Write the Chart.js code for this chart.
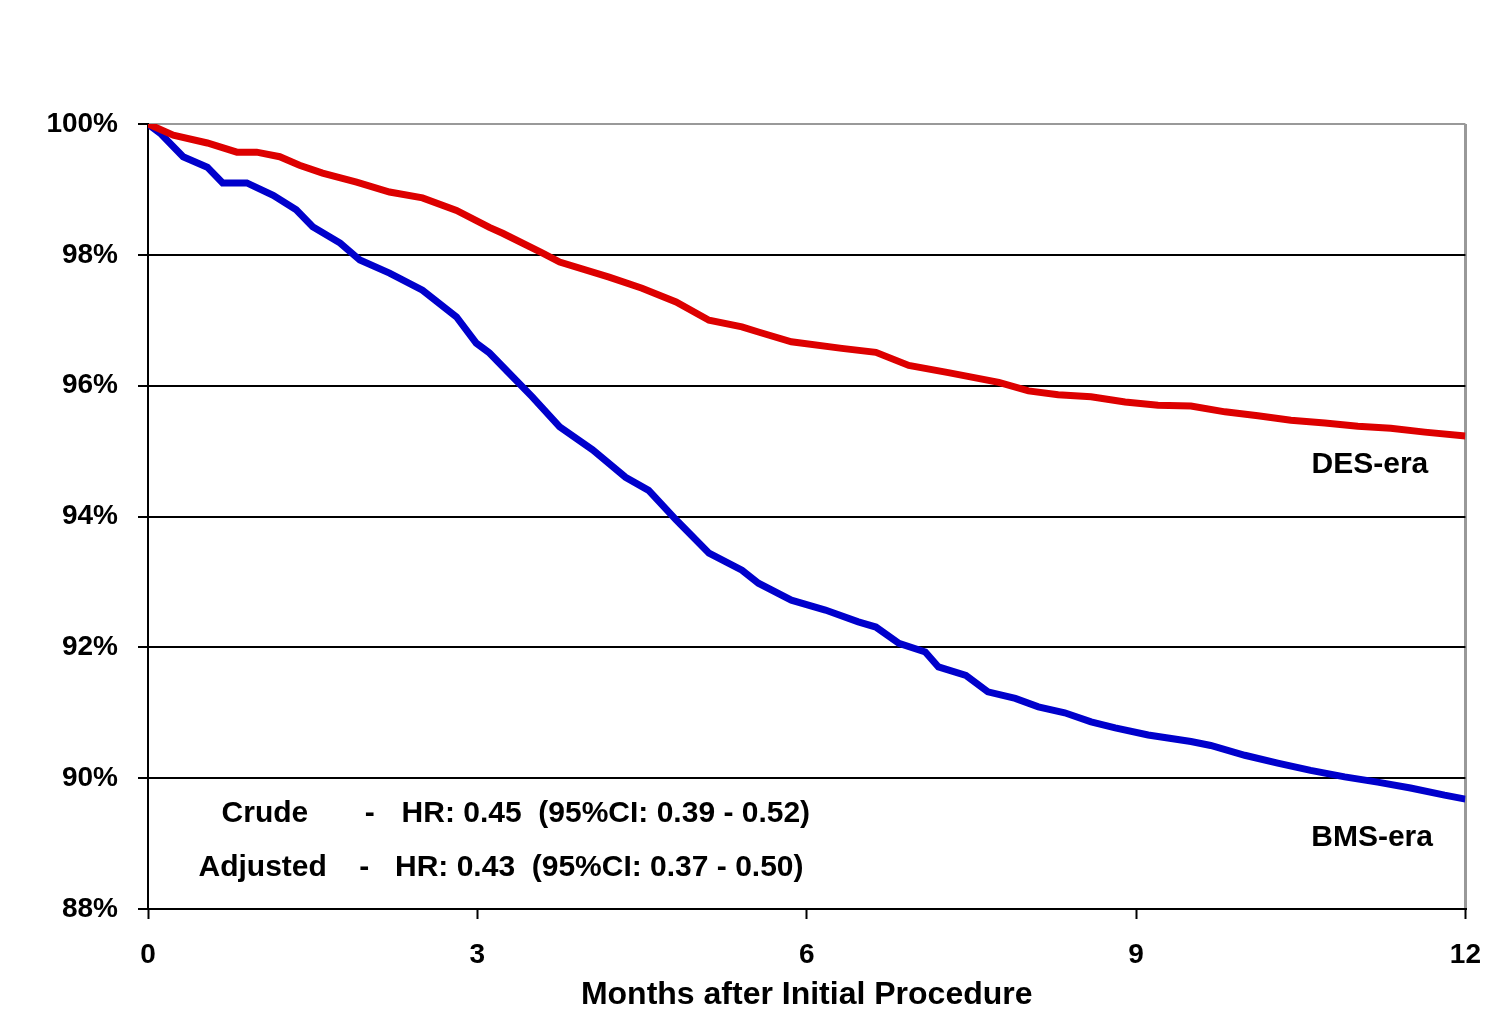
<!DOCTYPE html>
<html>
<head>
<meta charset="utf-8">
<script src="https://cdn.jsdelivr.net/npm/chart.js@4.4.1/dist/chart.umd.min.js"></script>
<style>
  body { margin: 0; background: #fff; }
  #wrap { width: 1500px; height: 1028px; }
</style>
</head>
<body>
<div id="wrap"><canvas id="km"></canvas></div>
<script>
// Kaplan-Meier style curves (months, percent event-free)
const desMonths = [0, 0.23, 0.54, 0.81, 0.99, 1.2, 1.38, 1.59, 1.9, 2.2, 2.5, 2.81, 3.11, 3.23, 3.59, 3.75, 4.2, 4.5, 4.81, 5.11, 5.41, 5.56, 5.86, 6.32, 6.63, 6.93, 7.29, 7.75, 8.02, 8.29, 8.59, 8.9, 9.2, 9.5, 9.81, 10.11, 10.41, 10.72, 11.02, 11.32, 11.63, 12]
const desValues = [100, 99.83, 99.71, 99.57, 99.57, 99.5, 99.37, 99.25, 99.11, 98.96, 98.87, 98.68, 98.42, 98.33, 98.03, 97.89, 97.66, 97.49, 97.28, 97.0, 96.9, 96.82, 96.67, 96.57, 96.51, 96.31, 96.2, 96.05, 95.92, 95.86, 95.83, 95.75, 95.7, 95.69, 95.6, 95.54, 95.47, 95.43, 95.38, 95.35, 95.29, 95.23]

const bmsMonths = [0, 0.11, 0.32, 0.54, 0.68, 0.9, 1.14, 1.35, 1.5, 1.75, 1.93, 2.2, 2.5, 2.81, 2.99, 3.11, 3.29, 3.5, 3.75, 4.05, 4.35, 4.56, 4.81, 5.11, 5.41, 5.56, 5.86, 6.17, 6.47, 6.63, 6.84, 7.08, 7.2, 7.45, 7.65, 7.9, 8.11, 8.35, 8.59, 8.81, 9.11, 9.5, 9.68, 9.99, 10.29, 10.59, 10.9, 11.2, 11.5, 11.81, 12]
const bmsValues = [100, 99.86, 99.5, 99.34, 99.1, 99.1, 98.91, 98.69, 98.43, 98.18, 97.92, 97.72, 97.46, 97.05, 96.65, 96.5, 96.19, 95.83, 95.37, 95.02, 94.6, 94.4, 93.95, 93.44, 93.18, 92.98, 92.72, 92.57, 92.39, 92.31, 92.06, 91.93, 91.7, 91.57, 91.32, 91.22, 91.09, 91.0, 90.86, 90.77, 90.66, 90.56, 90.5, 90.35, 90.23, 90.12, 90.02, 89.94, 89.85, 89.74, 89.68]

const xTicks = [0, 3, 6, 9, 12]
const yTicks = [88, 90, 92, 94, 96, 98, 100]

const FONT = "'Liberation Sans', Arial, sans-serif"

const toPoints = (xs, ys) => xs.map((x, i) => ({ x: x, y: ys[i] }))

// text drawn inside the plot, placed in data units
const notes = [
  { text: 'DES-era', x: 11.13, y: 94.79, align: 'center' },
  { text: 'BMS-era', x: 11.15, y: 89.09, align: 'center' },
  { text: 'Crude', x: 0.67, y: 89.45, align: 'left' },
  { text: '-', x: 2.02, y: 89.45, align: 'center' },
  { text: 'HR: 0.45  (95%CI: 0.39 - 0.52)', x: 2.31, y: 89.45, align: 'left' },
  { text: 'Adjusted', x: 0.46, y: 88.63, align: 'left' },
  { text: '-', x: 1.97, y: 88.63, align: 'center' },
  { text: 'HR: 0.43  (95%CI: 0.37 - 0.50)', x: 2.25, y: 88.63, align: 'left' }
]

const notesPlugin = {
  id: 'notes',
  afterDatasetsDraw(chart) {
    const ctx = chart.ctx
    const xs = chart.scales.x
    const ys = chart.scales.y
    ctx.save()
    ctx.fillStyle = '#000'
    ctx.font = 'bold 30px ' + FONT
    ctx.textBaseline = 'middle'
    notes.forEach(n => {
      ctx.textAlign = n.align
      ctx.fillText(n.text, xs.getPixelForValue(n.x), ys.getPixelForValue(n.y))
    })
    ctx.restore()
  }
}

new Chart(document.getElementById('km'), {
  type: 'scatter',
  data: {
    datasets: [
      {
        label: 'DES-era',
        data: toPoints(desMonths, desValues),
        showLine: true,
        borderColor: '#dd0000',
        borderWidth: 7,
        pointRadius: 0,
        tension: 0
      },
      {
        label: 'BMS-era',
        data: toPoints(bmsMonths, bmsValues),
        showLine: true,
        borderColor: '#0000cc',
        borderWidth: 7,
        pointRadius: 0,
        tension: 0
      }
    ]
  },
  options: {
    responsive: true,
    maintainAspectRatio: false,
    animation: false,
    layout: { padding: { top: 124, right: 29, bottom: 0, left: 0 } },
    plugins: {
      legend: { display: false },
      tooltip: { enabled: false }
    },
    scales: {
      x: {
        type: 'linear',
        min: 0,
        max: 12,
        afterBuildTicks: s => { s.ticks = xTicks.map(v => ({ value: v })) },
        afterFit: s => { s.height = 119 },
        ticks: {
          color: '#000',
          padding: 19,
          font: { family: FONT, size: 28, weight: 'bold' }
        },
        grid: {
          color: c => (c.tick && c.tick.value === 12) ? '#999' : 'rgba(0,0,0,0)',
          lineWidth: 3,
          tickColor: '#000',
          tickWidth: 2,
          tickLength: 10
        },
        border: { color: '#000', width: 2 },
        title: {
          display: true,
          text: 'Months after Initial Procedure',
          color: '#000',
          font: { family: FONT, size: 32, weight: 'bold' },
          padding: { top: 0, bottom: 14 }
        }
      },
      y: {
        min: 88,
        max: 100,
        afterBuildTicks: s => { s.ticks = yTicks.map(v => ({ value: v })) },
        afterFit: s => { s.width = 148 },
        ticks: {
          color: '#000',
          padding: 20,
          font: { family: FONT, size: 28, weight: 'bold' },
          callback: v => v + '%'
        },
        grid: {
          color: c => (c.tick && c.tick.value === 100) ? '#999' : '#000',
          lineWidth: 2,
          tickColor: '#000',
          tickLength: 10
        },
        border: { color: '#000', width: 2 }
      }
    }
  },
  plugins: [notesPlugin]
})
</script>
</body>
</html>
